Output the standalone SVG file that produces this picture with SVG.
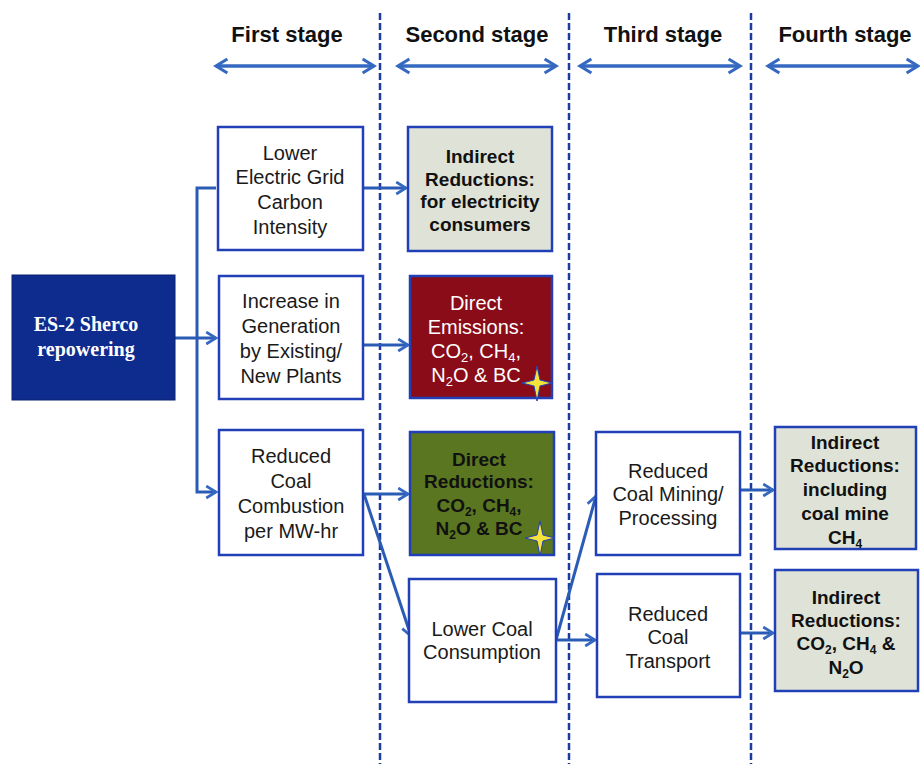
<svg xmlns="http://www.w3.org/2000/svg" width="920" height="764" viewBox="0 0 920 764">
<style>
.hdr{font-family:"Liberation Sans",Arial,sans-serif;font-weight:bold;font-size:22px;fill:#111;text-anchor:middle}
.t{font-family:"Liberation Sans",Arial,sans-serif;font-size:20px;fill:#1a1a1a;text-anchor:middle}
.b{font-family:"Liberation Sans",Arial,sans-serif;font-size:19px;font-weight:bold;fill:#111;text-anchor:middle}
.w{font-family:"Liberation Sans",Arial,sans-serif;font-size:20px;fill:#fff;text-anchor:middle}
.es{font-family:"Liberation Serif","Times New Roman",serif;font-size:20px;font-weight:bold;fill:#fff;text-anchor:middle}
.box{fill:#fff;stroke:#2140b8;stroke-width:2.5}
.ind{fill:#dfe3d7;stroke:#2140b8;stroke-width:2.5}
.div{stroke:#1b3b9e;stroke-width:2.5;stroke-dasharray:7 3}
.conn{stroke:#2b5cb5;stroke-width:3;fill:none}
.hd{stroke:#3568c0;stroke-width:3.5;fill:none}
.star{fill:#f5e23a;stroke:#2140b8;stroke-width:1}
</style>
<defs>
<marker id="ah" viewBox="0 0 10 10" refX="8" refY="5" markerWidth="5" markerHeight="5" orient="auto-start-reverse" markerUnits="strokeWidth">
<path d="M1.5,1 L8,5 L1.5,9" fill="none" stroke="#3568c0" stroke-width="1.8"/>
</marker>
</defs>
<rect width="920" height="764" fill="#fff"/>
<g id="dividers">
<line class="div" x1="380" y1="13" x2="380" y2="764"/>
<line class="div" x1="569" y1="13" x2="569" y2="764"/>
<line class="div" x1="751" y1="13" x2="751" y2="764"/>
</g>
<g id="headers">
<text class="hdr" x="287" y="42">First stage</text>
<text class="hdr" x="477" y="42">Second stage</text>
<text class="hdr" x="663" y="42">Third stage</text>
<text class="hdr" x="845" y="42">Fourth stage</text>
<line class="hd" x1="216" y1="66" x2="374" y2="66" marker-start="url(#ah)" marker-end="url(#ah)"/>
<line class="hd" x1="398" y1="66" x2="556" y2="66" marker-start="url(#ah)" marker-end="url(#ah)"/>
<line class="hd" x1="580" y1="66" x2="740" y2="66" marker-start="url(#ah)" marker-end="url(#ah)"/>
<line class="hd" x1="768" y1="66" x2="918" y2="66" marker-start="url(#ah)" marker-end="url(#ah)"/>
</g>
<g id="connectors">
<line class="conn" x1="175" y1="338" x2="216" y2="338" marker-end="url(#ah)"/>
<polyline class="conn" points="216,188 197,188 197,492 216,492" marker-end="url(#ah)"/>
<line class="conn" x1="363" y1="188" x2="406" y2="188" marker-end="url(#ah)"/>
<line class="conn" x1="363" y1="345" x2="408" y2="345" marker-end="url(#ah)"/>
<line class="conn" x1="363" y1="494" x2="408" y2="494" marker-end="url(#ah)"/>
<line class="conn" x1="364" y1="494" x2="411" y2="636" marker-end="url(#ah)"/>
<line class="conn" x1="556" y1="640" x2="596" y2="496" marker-end="url(#ah)"/>
<line class="conn" x1="556" y1="640" x2="595" y2="640" marker-end="url(#ah)"/>
<line class="conn" x1="740" y1="490" x2="773" y2="490" marker-end="url(#ah)"/>
<line class="conn" x1="740" y1="633" x2="773" y2="633" marker-end="url(#ah)"/>
</g>
<g id="es2">
<rect x="12" y="275" width="163" height="125" fill="#0e2b8e" stroke="#0a2070" stroke-width="1"/>
<text class="es" x="86" y="331">ES-2 Sherco</text>
<text class="es" x="86" y="356">repowering</text>
</g>
<g id="lowerGrid">
<rect class="box" x="218" y="127" width="145" height="123"/>
<text class="t" x="290" y="160">Lower</text>
<text class="t" x="290" y="184">Electric Grid</text>
<text class="t" x="290" y="209">Carbon</text>
<text class="t" x="290" y="234">Intensity</text>
</g>
<g id="indirectElec">
<rect class="ind" x="408" y="127" width="144" height="124"/>
<text class="b" x="480" y="163">Indirect</text>
<text class="b" x="480" y="186">Reductions:</text>
<text class="b" x="480" y="208">for electricity</text>
<text class="b" x="480" y="231">consumers</text>
</g>
<g id="increaseGen">
<rect class="box" x="219" y="276" width="144" height="123"/>
<text class="t" x="291" y="308">Increase in</text>
<text class="t" x="291" y="333">Generation</text>
<text class="t" x="291" y="358">by Existing/</text>
<text class="t" x="291" y="383">New Plants</text>
</g>
<g id="directEmissions">
<rect x="410" y="276" width="142" height="122" fill="#8a0c18" stroke="#2140b8" stroke-width="2.5"/>
<text class="w" x="476" y="310">Direct</text>
<text class="w" x="476" y="334">Emissions:</text>
<text class="w" x="476" y="358">CO<tspan font-size="13" dy="4">2</tspan><tspan dy="-4">, CH</tspan><tspan font-size="13" dy="4">4</tspan><tspan dy="-4">,</tspan></text>
<text class="w" x="476" y="382">N<tspan font-size="13" dy="4">2</tspan><tspan dy="-4">O &amp; BC</tspan></text>
<path class="star" d="M537,366 L540,380 L552,383 L540,386 L537,401 L534,386 L522,383 L534,380 Z"/>
</g>
<g id="reducedCombustion">
<rect class="box" x="219" y="430" width="144" height="125"/>
<text class="t" x="291" y="463">Reduced</text>
<text class="t" x="291" y="488">Coal</text>
<text class="t" x="291" y="513">Combustion</text>
<text class="t" x="291" y="538">per MW-hr</text>
</g>
<g id="directReductions">
<rect x="410" y="432" width="144" height="123" fill="#5a7620" stroke="#2140b8" stroke-width="2.5"/>
<text class="b" x="479" y="466" font-size="19">Direct</text>
<text class="b" x="479" y="488" font-size="19">Reductions:</text>
<text class="b" x="479" y="512" font-size="19">CO<tspan font-size="12" dy="4">2</tspan><tspan dy="-4">, CH</tspan><tspan font-size="12" dy="4">4</tspan><tspan dy="-4">,</tspan></text>
<text class="b" x="479" y="535" font-size="19">N<tspan font-size="12" dy="4">2</tspan><tspan dy="-4">O &amp; BC</tspan></text>
<path class="star" d="M540,521 L543,535 L555,538 L543,541 L540,556 L537,541 L525,538 L537,535 Z"/>
</g>
<g id="lowerCoal">
<rect class="box" x="409" y="579" width="147" height="123"/>
<text class="t" x="482" y="636">Lower Coal</text>
<text class="t" x="482" y="659">Consumption</text>
</g>
<g id="coalMining">
<rect class="box" x="596" y="432" width="144" height="123"/>
<text class="t" x="668" y="478">Reduced</text>
<text class="t" x="668" y="501">Coal Mining/</text>
<text class="t" x="668" y="525">Processing</text>
</g>
<g id="coalTransport">
<rect class="box" x="597" y="574" width="143" height="123"/>
<text class="t" x="668" y="621">Reduced</text>
<text class="t" x="668" y="644">Coal</text>
<text class="t" x="668" y="668">Transport</text>
</g>
<g id="indirectMine">
<rect class="ind" x="775" y="427" width="141" height="122"/>
<text class="b" x="845" y="449">Indirect</text>
<text class="b" x="845" y="472">Reductions:</text>
<text class="b" x="845" y="496">including</text>
<text class="b" x="845" y="520">coal mine</text>
<text class="b" x="845" y="544">CH<tspan font-size="12" dy="4">4</tspan></text>
</g>
<g id="indirectTransport">
<rect class="ind" x="775" y="570" width="143" height="121"/>
<text class="b" x="846" y="604">Indirect</text>
<text class="b" x="846" y="627">Reductions:</text>
<text class="b" x="846" y="650">CO<tspan font-size="12" dy="4">2</tspan><tspan dy="-4">, CH</tspan><tspan font-size="12" dy="4">4</tspan><tspan dy="-4"> &amp;</tspan></text>
<text class="b" x="846" y="674">N<tspan font-size="12" dy="4">2</tspan><tspan dy="-4">O</tspan></text>
</g>
</svg>
